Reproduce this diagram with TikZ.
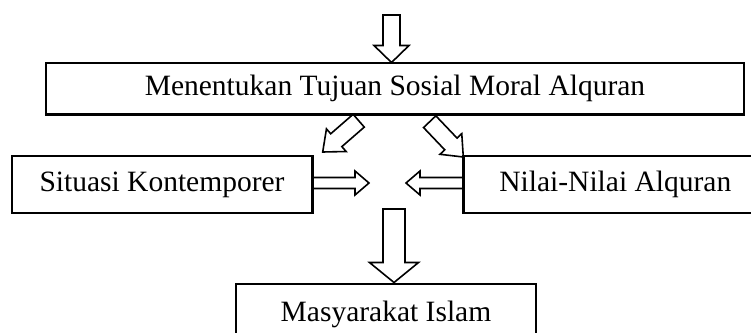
\documentclass[tikz,border=0pt]{standalone}
\usepackage{fontspec}
\setmainfont{Liberation Serif}
\usetikzlibrary{calc}
\tikzset{
  boxstyle/.style={draw=black, line width=1.6pt, inner sep=0pt, font=\fontsize{29.5}{34}\selectfont},
  blockstyle/.style={draw=black, line width=1.6pt, line join=miter, fill=white},
}
% \blockarrow{tail}{tip}{shaft half width}{head half width}{head length}
\newcommand{\blockarrow}[5]{%
  \path ($(#2)!#5!(#1)$) coordinate (ba-h);
  \draw[blockstyle] ($(#1)!#3!90:(#2)$) -- ($(ba-h)!#3!-90:(#1)$) -- ($(ba-h)!#4!-90:(#1)$) -- (#2)
    -- ($(ba-h)!#4!90:(#1)$) -- ($(ba-h)!#3!90:(#1)$) -- ($(#1)!#3!-90:(#2)$) -- cycle;
}
\begin{document}
\begin{tikzpicture}[x=1pt,y=-1pt]
\useasboundingbox (0,0) rectangle (751,332);
\clip (0,0) rectangle (751,332);
% boxes
\node[boxstyle, minimum width=698pt, minimum height=51pt] (top) at (395,88.5) {Menentukan Tujuan Sosial Moral Alquran};
\node[boxstyle, minimum width=300pt, minimum height=57pt] (sit) at (162,184.5) {Situasi Kontemporer};
\node[boxstyle, minimum width=303pt, minimum height=57pt, anchor=west] (nil) at (463,184.5) {Nilai-Nilai Alquran};
\node[boxstyle, minimum width=300pt, minimum height=62pt, anchor=north] (mas) at (386,283) {\raisebox{2pt}{Masyarakat Islam}};
% arrow end points
\coordinate (a1t) at (391.5,15);
\coordinate (a1h) at (391.5,62.5);
\coordinate (a2t) at (358.7,120.7);
\coordinate (a2h) at (322.7,152);
\coordinate (a3t) at (429.7,121.7);
\coordinate (a3h) at (463.3,157);
\coordinate (a4t) at (312,183);
\coordinate (a4h) at (369,183);
\coordinate (a5t) at (463,183);
\coordinate (a5h) at (406,183);
\coordinate (a6t) at (394,209);
\coordinate (a6h) at (394,282.5);
% arrows
\blockarrow{a1t}{a1h}{8.5pt}{17.5pt}{17pt}
\blockarrow{a2t}{a2h}{8.5pt}{15pt}{18pt}
\blockarrow{a3t}{a3h}{8.5pt}{15pt}{18pt}
\blockarrow{a4t}{a4h}{5.5pt}{12pt}{14pt}
\blockarrow{a5t}{a5h}{5.5pt}{12pt}{14pt}
\blockarrow{a6t}{a6h}{11pt}{24.5pt}{20pt}
% redraw box borders over the arrow tails
\draw[line width=1.6pt] (top.south west) -- (top.south east);
\draw[line width=1.6pt] (sit.north east) -- (sit.south east);
\draw[line width=1.6pt] (nil.north west) -- (nil.south west);
\end{tikzpicture}
\end{document}
